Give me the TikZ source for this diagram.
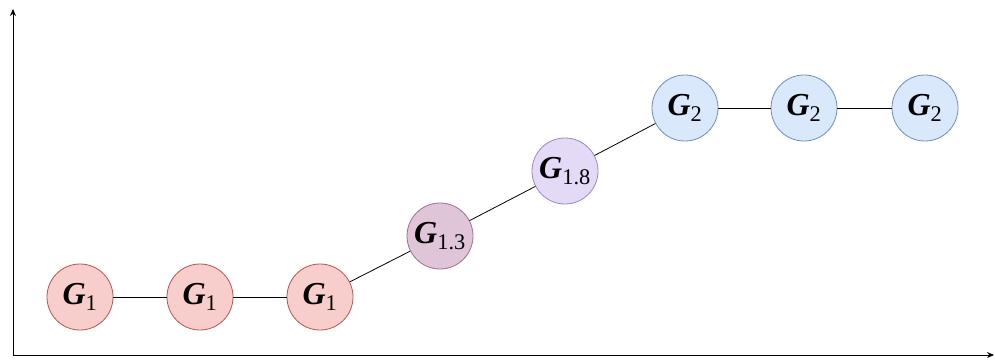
\documentclass[tikz,border=0pt]{standalone}
\usepackage{fontspec}
\setmainfont{Liberation Serif}
\usetikzlibrary{arrows.meta}

\definecolor{redfill}{HTML}{F8CECC}
\definecolor{redline}{HTML}{B85450}
\definecolor{mixfill}{HTML}{E0C4D7}
\definecolor{mixline}{HTML}{9E6F8E}
\definecolor{lilfill}{HTML}{E4DAF7}
\definecolor{lilline}{HTML}{9A88BE}
\definecolor{bluefill}{HTML}{DAE8FC}
\definecolor{blueline}{HTML}{6C8EBF}

\newcommand{\gname}[1]{\textbf{\textit{G}}\textsubscript{#1}}

\begin{document}
\begin{tikzpicture}[x=1pt,y=1pt,
  gnode/.style={circle, draw, line width=0.8pt, minimum size=66pt, inner sep=0pt,
                font=\fontsize{32}{32}\selectfont},
  link/.style={line width=0.8pt, black}]

\useasboundingbox (0,0) rectangle (995,362);

% axes
\coordinate (origin) at (13,7);
\coordinate (ytop) at (13,353);
\coordinate (xend) at (994,7);
\draw[line width=0.9pt, -{Stealth[length=7pt,width=6pt]}] (origin) -- (ytop);
\draw[line width=0.9pt, -{Stealth[length=7pt,width=6pt]}] (origin) -- (xend);

% ---------- stage 1 ----------
\foreach \n/\x in {a/80, b/200, c/320} {
  \node[gnode, fill=redfill, draw=redline] (g1\n) at (\x,65) {\gname{1}};
}

% ---------- transition ----------
\node[gnode, fill=mixfill, draw=mixline] (g13) at (440,126) {\gname{1.3}};
\node[gnode, fill=lilfill, draw=lilline] (g18) at (565,191) {\gname{1.8}};

% ---------- stage 2 ----------
\foreach \n/\x in {a/685, b/804, c/925} {
  \node[gnode, fill=bluefill, draw=blueline] (g2\n) at (\x,254) {\gname{2}};
}

% links
\draw[link] (g1a) -- (g1b);
\draw[link] (g1b) -- (g1c);
\draw[link] (g1c) -- (g13);
\draw[link] (g13) -- (g18);
\draw[link] (g18) -- (g2a);
\draw[link] (g2a) -- (g2b);
\draw[link] (g2b) -- (g2c);

\end{tikzpicture}
\end{document}
